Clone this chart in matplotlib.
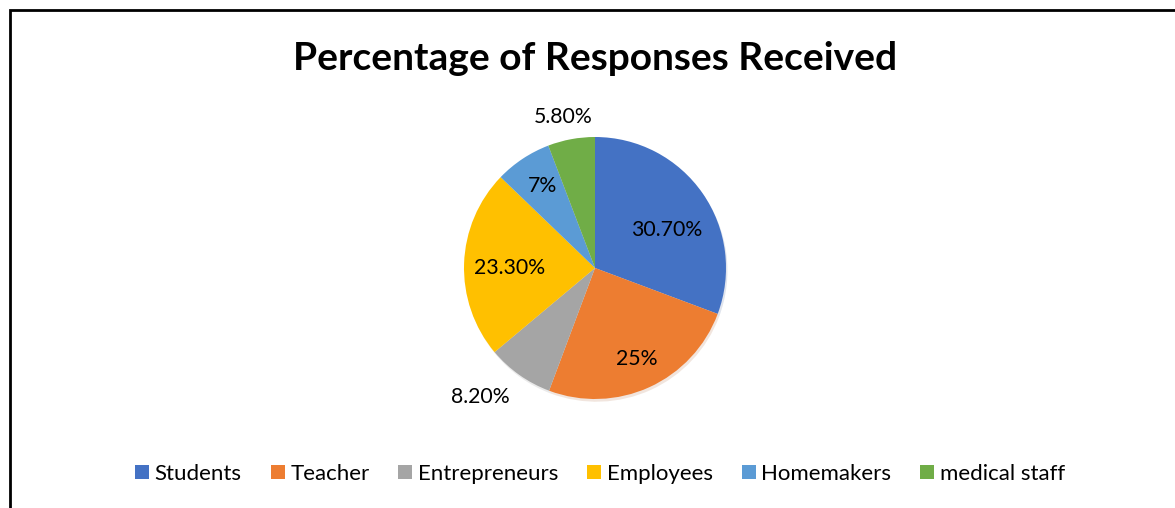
import numpy as np
import matplotlib
matplotlib.use("Agg")
import matplotlib.pyplot as plt
from matplotlib.patches import Rectangle

categories = ["Students", "Teacher", "Entrepreneurs", "Employees", "Homemakers", "medical staff"]
values = [30.7, 25.0, 8.2, 23.3, 7.0, 5.8]
value_labels = ["30.70%", "25%", "8.20%", "23.30%", "7%", "5.80%"]
colors = ["#4472C4", "#ED7D31", "#A5A5A5", "#FFC000", "#5B9BD5", "#70AD47"]
label_dist = [0.62, 0.76, 1.32, 0.65, 0.74, 1.18]
label_shift = [-7.0, 0.0, -6.4, 2.0, -1.0, 1.5]

plt.rcParams['font.family'] = ['Lato', 'DejaVu Sans']

W, H = 1175, 508
fig = plt.figure(figsize=(W / 100, H / 100), dpi=100)
fig.patch.set_facecolor("white")

# border (left and top visible, right/bottom clipped)
fig.patches.append(Rectangle((9.5 / W, -0.2), 1.2, (H - 9.5) / H + 0.2,
                             transform=fig.transFigure, fill=False,
                             edgecolor="black", linewidth=2.0, zorder=10))

cx, cy, r = 595, 268, 131
ax = fig.add_axes([(cx - r) / W, (H - cy - r) / H, 2 * r / W, 2 * r / H])
wedges, _ = ax.pie(values, colors=colors, startangle=90, counterclock=False,
                   radius=1.0, wedgeprops=dict(linewidth=0),
                   shadow=dict(ox=0.008, oy=-0.015, shade=0.3, alpha=0.15))
ax.set_xlim(-1, 1)
ax.set_ylim(-1, 1)
ax.set_aspect("equal")
ax.axis("off")

for w, lab, d, s in zip(wedges, value_labels, label_dist, label_shift):
    ang = np.deg2rad((w.theta1 + w.theta2) / 2 + s)
    ax.text(d * np.cos(ang), d * np.sin(ang), lab, ha="center", va="center",
            fontsize=15.3, color="#000000", clip_on=False)

fig.text(cx / W, (H - 58) / H, "Percentage of Responses Received",
         ha="center", va="center", fontsize=28, fontweight="bold", color="black")

leg = fig.legend(wedges, categories, loc="center", bbox_to_anchor=(600 / W, (H - 474) / H),
                 ncol=6, frameon=False, fontsize=16, handlelength=0.63, handleheight=0.63,
                 handletextpad=0.25, columnspacing=1.3)

fig.savefig("out.png", dpi=100, facecolor="white")
